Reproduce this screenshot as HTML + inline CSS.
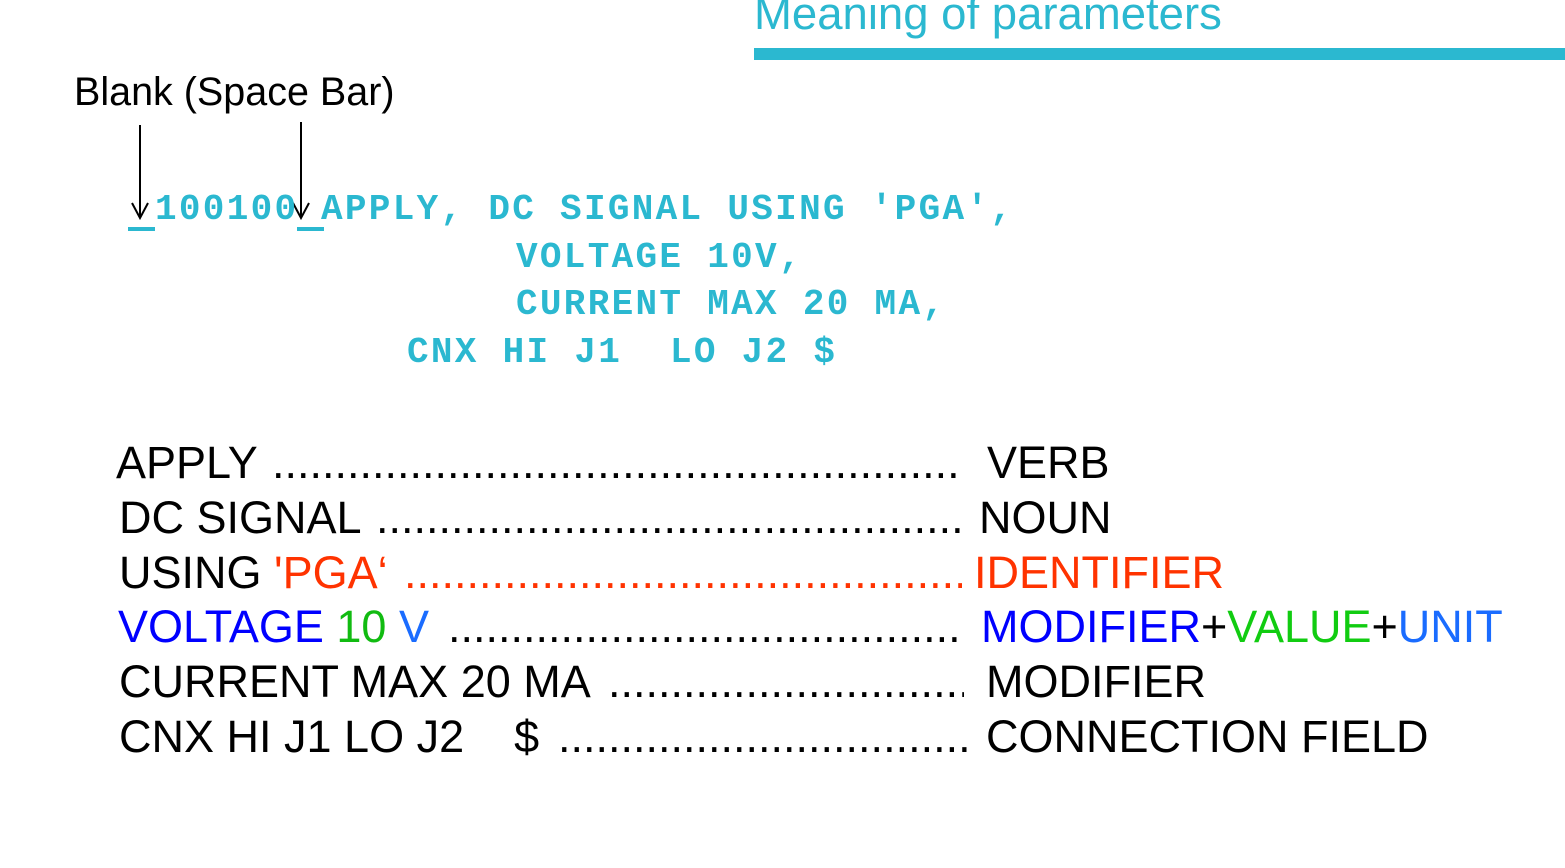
<!DOCTYPE html>
<html><head><meta charset="utf-8"><style>
body{margin:0;width:1565px;height:868px;background:#fff;position:relative;overflow:hidden;font-family:"Liberation Sans",sans-serif}
.a{position:absolute;white-space:pre;line-height:1}
.m{font-family:"Liberation Mono",monospace;font-weight:bold;font-size:36px;letter-spacing:2.3px;color:#2bb8d0}
.r{font-size:45px}
.d{position:absolute;overflow:hidden;white-space:nowrap;font-size:45px;line-height:1}
</style></head><body>
<div class="a" style="left:754px;top:-9px;font-size:45.5px;color:#2bb8d0">Meaning of parameters</div>
<div style="position:absolute;left:754px;top:48px;width:811px;height:12px;background:#2bb8d0"></div>
<div class="a" style="left:74px;top:73px;font-size:39.5px;color:#000">Blank (Space Bar)</div>
<svg style="position:absolute;left:0;top:0" width="400" height="240">
<line x1="140" y1="125" x2="140" y2="217" stroke="#000" stroke-width="2"/>
<polyline points="132,203 140,218 148,203" fill="none" stroke="#000" stroke-width="2"/>
<line x1="301" y1="122" x2="301" y2="217" stroke="#000" stroke-width="2"/>
<polyline points="293,203 301,218 309,203" fill="none" stroke="#000" stroke-width="2"/>
<rect x="128" y="227" width="27" height="4" fill="#2bb8d0"/>
<rect x="297" y="227" width="27" height="4" fill="#2bb8d0"/>
</svg>
<div class="a m" style="left:155px;top:192px">100100</div>
<div class="a m" style="left:321px;top:192px">APPLY, DC SIGNAL USING ′PGA′,</div>
<div class="a m" style="left:516px;top:240px">VOLTAGE 10V,</div>
<div class="a m" style="left:516px;top:287px">CURRENT MAX 20 MA,</div>
<div class="a m" style="left:407px;top:335px">CNX HI J1  LO J2 $</div>

<div class="a r" style="left:116px;top:440px">APPLY</div>
<div class="d" style="left:272px;top:440px;width:690px">..........................................................................................</div>
<div class="a r" style="left:987px;top:440px">VERB</div>

<div class="a r" style="left:119px;top:495px">DC SIGNAL</div>
<div class="d" style="left:376px;top:495px;width:586px">..........................................................................................</div>
<div class="a r" style="left:979px;top:495px">NOUN</div>

<div class="a r" style="left:119px;top:550px">USING <span style="color:#ff3300">'PGA‘</span></div>
<div class="d" style="left:404px;top:550px;width:558px;color:#ff3300">..........................................................................................</div>
<div class="a r" style="left:974px;top:550px;color:#ff3300">IDENTIFIER</div>

<div class="a r" style="left:118px;top:604px;color:#0000ff">VOLTAGE <span style="color:#11bb11">10</span> <span style="color:#1a6cff">V</span></div>
<div class="d" style="left:448px;top:604px;width:516px">..........................................................................................</div>
<div class="a r" style="left:981px;top:604px;color:#0000ff">MODIFIER<span style="color:#000">+</span><span style="color:#11cc11">VALUE</span><span style="color:#000">+</span><span style="color:#1a6cff">UNIT</span></div>

<div class="a r" style="left:119px;top:659px">CURRENT MAX 20 MA</div>
<div class="d" style="left:608px;top:659px;width:356px">..........................................................................................</div>
<div class="a r" style="left:986px;top:659px">MODIFIER</div>

<div class="a r" style="left:119px;top:714px">CNX HI J1 LO J2    $</div>
<div class="d" style="left:558px;top:714px;width:410px">..........................................................................................</div>
<div class="a r" style="left:986px;top:714px">CONNECTION FIELD</div>
</body></html>
